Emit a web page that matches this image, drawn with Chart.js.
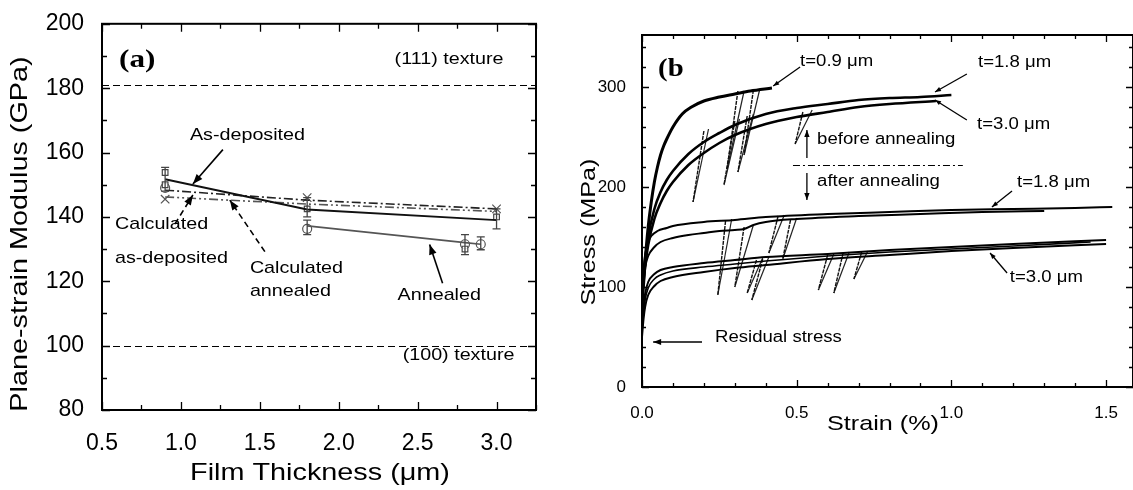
<!DOCTYPE html>
<html>
<head>
<meta charset="utf-8">
<script src="https://cdn.jsdelivr.net/npm/chart.js@4/dist/chart.umd.min.js"></script>
<style>
  html, body { margin: 0; padding: 0; background: #fff; }
  #wrap { position: relative; width: 1133px; height: 490px; overflow: hidden; }
  #chartA { position: absolute; left: 0; top: 0; }
  #chartB { position: absolute; left: 560px; top: 0; }
</style>
</head>
<body>
<div id="wrap">
  <canvas id="chartA" width="560" height="490"></canvas>
  <canvas id="chartB" width="573" height="490"></canvas>
</div>
<script>
// ---------- panel (a): modulus vs film thickness ----------
const thickness = [0.9, 1.8, 3.0];
const asDeposited = [151.7, 142.3, 139.0];
const calcAsDeposited = [148.3, 145.2, 142.5];
const calcAnnealed = [146.2, 144.0, 141.7];
const annealedThickness = [1.8, 2.8, 2.9];
const annealed = [137.2, 132.0, 131.5];

const squareX = [0.9, 0.9, 1.8, 3.0, 2.8];
const squareY = [153.8, 150.0, 142.5, 140.0, 130.0];
const circleX = [0.9, 1.8, 2.8, 2.9];
const circleY = [149.0, 136.3, 131.5, 131.5];
const crossX = [0.9, 1.8, 3.0];
const crossY = [145.5, 146.0, 142.5];

const errX = [0.9, 1.8, 1.8, 3.0, 2.8, 2.9];
const errLo = [148.0, 140.0, 134.5, 136.3, 128.3, 129.8];
const errHi = [155.4, 146.0, 139.0, 142.5, 134.5, 133.8];

const texture111 = 181;
const texture100 = 100;

const thicknessTicks = [0.5, 1.0, 1.5, 2.0, 2.5, 3.0];
const thicknessMinor = [0.75, 1.25, 1.75, 2.25, 2.75, 3.25];
const modulusTicks = [80, 100, 120, 140, 160, 180, 200];
const modulusMinor = [90, 110, 130, 150, 170, 190];

// ---------- panel (b): stress-strain curves ----------
// before annealing
const t09Strain = [0, 0.01, 0.02, 0.03, 0.04, 0.05, 0.06, 0.07, 0.08, 0.1, 0.13, 0.16, 0.2, 0.25, 0.3, 0.35, 0.42];
const t09Stress = [80, 125, 160, 185, 205, 220, 232, 241, 248, 260, 273, 280, 286, 290, 293, 296, 299];
const t18bStrain = [0, 0.01, 0.02, 0.04, 0.06, 0.08, 0.1, 0.15, 0.2, 0.25, 0.3, 0.4, 0.5, 0.6, 0.7, 0.8, 0.9, 1.0];
const t18bStress = [90, 125, 150, 178, 195, 207, 216, 233, 245, 254, 262, 273, 279, 283, 287, 289, 290, 292];
const t30bStrain = [0, 0.01, 0.02, 0.04, 0.06, 0.08, 0.1, 0.15, 0.2, 0.25, 0.3, 0.4, 0.5, 0.6, 0.7, 0.8, 0.95];
const t30bStress = [90, 120, 142, 168, 184, 196, 205, 222, 234, 244, 252, 263, 270, 275, 280, 283, 286];
// after annealing
const t18aStrain = [0, 0.005, 0.01, 0.02, 0.03, 0.05, 0.08, 0.1, 0.2, 0.3, 0.4, 0.6, 0.8, 1.0, 1.2, 1.4, 1.52];
const t18aStress = [95, 118, 132, 145, 151, 156, 159, 161, 165, 167, 170, 173, 175, 177, 178, 179, 180];
const t18a2Strain = [0, 0.005, 0.01, 0.02, 0.04, 0.06, 0.1, 0.15, 0.2, 0.25, 0.3, 0.33, 0.36, 0.4, 0.5, 0.7, 0.9, 1.1, 1.3];
const t18a2Stress = [95, 110, 120, 131, 140, 145, 149, 152, 154, 156, 157, 158, 162, 165, 168, 171, 173, 175, 176];
const t30aStrain = [0, 0.005, 0.01, 0.02, 0.04, 0.06, 0.1, 0.2, 0.3, 0.4, 0.6, 0.8, 1.0, 1.2, 1.5];
const t30aStress = [60, 80, 93, 105, 113, 117, 120, 124, 127, 130, 133, 137, 140, 143, 147];
const t30a2Strain = [0, 0.005, 0.01, 0.02, 0.04, 0.06, 0.1, 0.2, 0.3, 0.4, 0.6, 0.8, 1.0, 1.2, 1.5];
const t30a2Stress = [50, 68, 80, 92, 101, 106, 110, 115, 119, 122, 128, 132, 136, 139, 143];
const t30a3Strain = [0, 0.005, 0.01, 0.02, 0.04, 0.06, 0.1, 0.2, 0.3, 0.4, 0.6, 0.8, 1.0, 1.2, 1.45];
const t30a3Stress = [55, 74, 87, 99, 108, 112, 116, 120, 123, 126, 131, 135, 138, 141, 145];

// unloading segments: top point -> bottom point
const unloadTopStrain = [0.20, 0.30, 0.34, 0.31, 0.36, 0.52, 0.27, 0.33, 0.44, 0.48, 0.37, 0.39, 0.60, 0.65, 0.71];
const unloadTopStress = [256, 266, 271, 296, 297, 275, 166, 160, 171, 167, 127, 128, 132, 134, 135];
const unloadBotStrain = [0.165, 0.265, 0.31, 0.275, 0.33, 0.495, 0.245, 0.30, 0.41, 0.455, 0.34, 0.355, 0.57, 0.62, 0.685];
const unloadBotStress = [185, 202, 215, 218, 232, 243, 92, 100, 134, 128, 94, 87, 97, 94, 108];
// reloading segments: bottom point -> point where the curve is rejoined
const reloadEndStrain = [0.215, 0.315, 0.36, 0.33, 0.38, 0.55, 0.29, 0.36, 0.46, 0.50, 0.39, 0.41, 0.62, 0.67, 0.73];
const reloadEndStress = [258, 268, 273, 296, 297, 277, 168, 162, 172, 169, 129, 130, 133, 135, 136];

const strainTicks = [0, 0.5, 1.0, 1.5];
const strainMinor = [0.1, 0.2, 0.3, 0.4, 0.6, 0.7, 0.8, 0.9, 1.1, 1.2, 1.3, 1.4];
const stressTicks = [0, 100, 200, 300];
const stressMinor = [20, 40, 60, 80, 120, 140, 160, 180, 220, 240, 260, 280, 320, 340];

const SANS = '"Liberation Sans", Arial, Helvetica, sans-serif';
const SERIF = '"Liberation Serif", "Times New Roman", serif';

const pts = (xs, ys) => xs.map((v, i) => ({ x: v, y: ys[i] }));

function label(ctx, text, px, py, o) {
    ctx.save();
    ctx.translate(px, py);
    if (o.rotate) ctx.rotate(o.rotate);
    ctx.scale(o.stretch || 1, 1);
    ctx.font = (o.weight || 'normal') + ' ' + o.size + 'px ' + (o.family || SANS);
    ctx.fillStyle = o.color || '#000';
    ctx.textAlign = o.align || 'left';
    ctx.textBaseline = o.baseline || 'middle';
    ctx.fillText(text, 0, 0);
    ctx.restore();
}

function arrow(ctx, x0, y0, x1, y1, o) {
    ctx.save();
    ctx.strokeStyle = ctx.fillStyle = o.color || '#000';
    ctx.lineWidth = o.width || 1.5;
    ctx.setLineDash(o.dash || []);
    ctx.beginPath();
    ctx.moveTo(x0, y0);
    ctx.lineTo(x1, y1);
    ctx.stroke();
    ctx.setLineDash([]);
    if (o.head) {
        const a = Math.atan2(y1 - y0, x1 - x0), L = o.head, W = o.headW || L * 0.38;
        ctx.beginPath();
        ctx.moveTo(x1, y1);
        ctx.lineTo(x1 - L * Math.cos(a) + W * Math.sin(a), y1 - L * Math.sin(a) - W * Math.cos(a));
        ctx.lineTo(x1 - L * Math.cos(a) - W * Math.sin(a), y1 - L * Math.sin(a) + W * Math.cos(a));
        ctx.closePath();
        ctx.fill();
    }
    ctx.restore();
}

// box + inward ticks on all four sides
function frame(chart, xMaj, xMin, yMaj, yMin, majLen, minLen, lw) {
    const { ctx, chartArea: a, scales: { x, y } } = chart;
    ctx.save();
    ctx.strokeStyle = '#000';
    ctx.lineWidth = lw;
    ctx.strokeRect(a.left, a.top, a.right - a.left, a.bottom - a.top);
    ctx.lineWidth = 1.3;
    ctx.beginPath();
    const xt = (v, len) => {
        const p = Math.round(x.getPixelForValue(v)) + 0.5;
        ctx.moveTo(p, a.bottom); ctx.lineTo(p, a.bottom - len);
        ctx.moveTo(p, a.top); ctx.lineTo(p, a.top + len);
    };
    const yt = (v, len) => {
        const p = Math.round(y.getPixelForValue(v)) + 0.5;
        ctx.moveTo(a.left, p); ctx.lineTo(a.left + len, p);
        ctx.moveTo(a.right, p); ctx.lineTo(a.right - len, p);
    };
    xMaj.forEach(v => xt(v, majLen));
    xMin.forEach(v => xt(v, minLen));
    yMaj.forEach(v => yt(v, majLen));
    yMin.forEach(v => yt(v, minLen));
    ctx.stroke();
    ctx.restore();
}

// ---------- panel (a) annotations (data coords) ----------
const notesA = [
    { t: '(a)', x: 0.608, y: 188.6, size: 26, weight: 'bold', family: SERIF, stretch: 1.2 },
    { t: '(111) texture', x: 2.354, y: 188.9, size: 17 },
    { t: '(100) texture', x: 2.405, y: 96.9, size: 17 },
    { t: 'As-deposited', x: 1.057, y: 165.5, size: 17 },
    { t: 'Calculated', x: 0.582, y: 137.8, size: 17 },
    { t: 'as-deposited', x: 0.582, y: 127.1, size: 17 },
    { t: 'Calculated', x: 1.437, y: 124.0, size: 17 },
    { t: 'annealed', x: 1.437, y: 116.9, size: 17 },
    { t: 'Annealed', x: 2.373, y: 115.7, size: 17 }
];
const arrowsA = [
    { x0: 1.266, y0: 160.9, x1: 1.076, y1: 150.2, dash: [] },
    { x0: 0.962, y0: 137.8, x1: 1.076, y1: 146.8, dash: [6, 4] },
    { x0: 1.532, y0: 129.2, x1: 1.31, y1: 145.2, dash: [6, 4] },
    { x0: 2.658, y0: 119.4, x1: 2.576, y1: 131.4, dash: [] }
];

const panelA = {
    id: 'panelA',
    beforeDatasetsDraw(chart) {
        const { ctx, chartArea: a, scales: { y } } = chart;
        ctx.save();
        ctx.strokeStyle = '#000';
        ctx.lineWidth = 1;
        ctx.setLineDash([7, 4]);
        [texture111, texture100].forEach(v => {
            const p = Math.round(y.getPixelForValue(v)) + 0.5;
            ctx.beginPath(); ctx.moveTo(a.left, p); ctx.lineTo(a.right, p); ctx.stroke();
        });
        ctx.restore();
    },
    afterDatasetsDraw(chart) {
        const { ctx, scales: { x, y } } = chart;
        // error bars
        ctx.save();
        ctx.strokeStyle = '#444';
        ctx.lineWidth = 1.3;
        errX.forEach((v, i) => {
            const px = x.getPixelForValue(v), lo = y.getPixelForValue(errLo[i]), hi = y.getPixelForValue(errHi[i]);
            ctx.beginPath();
            ctx.moveTo(px, lo); ctx.lineTo(px, hi);
            ctx.moveTo(px - 4, lo); ctx.lineTo(px + 4, lo);
            ctx.moveTo(px - 4, hi); ctx.lineTo(px + 4, hi);
            ctx.stroke();
        });
        ctx.restore();
        frame(chart, thicknessTicks, thicknessMinor, modulusTicks, modulusMinor, 8, 5, 2);
        notesA.forEach(n => label(ctx, n.t, x.getPixelForValue(n.x), y.getPixelForValue(n.y),
            { size: n.size, weight: n.weight, family: n.family, stretch: n.stretch || 1.16 }));
        arrowsA.forEach(r => arrow(ctx, x.getPixelForValue(r.x0), y.getPixelForValue(r.y0),
            x.getPixelForValue(r.x1), y.getPixelForValue(r.y1), { dash: r.dash, width: 1.6, head: 10 }));
        // axis titles
        label(ctx, 'Plane-strain Modulus (GPa)', 27, 234, { size: 24, stretch: 1.2, rotate: -Math.PI / 2, align: 'center', baseline: 'alphabetic' });
        label(ctx, 'Film Thickness (\u03bcm)', 320, 480, { size: 24, stretch: 1.2, align: 'center', baseline: 'alphabetic' });
    }
};

new Chart(document.getElementById('chartA'), {
    type: 'line',
    data: {
        datasets: [
            { label: 'As-deposited', data: pts(thickness, asDeposited), borderColor: '#111', borderWidth: 1.8, pointRadius: 0 },
            { label: 'Calculated as-deposited', data: pts(thickness, calcAsDeposited), borderColor: '#222', borderWidth: 1.6, borderDash: [9, 3, 2, 3], pointRadius: 0 },
            { label: 'Calculated annealed', data: pts(thickness, calcAnnealed), borderColor: '#555', borderWidth: 1.6, borderDash: [9, 3, 2, 3, 2, 3], pointRadius: 0 },
            { label: 'Annealed', data: pts(annealedThickness, annealed), borderColor: '#555', borderWidth: 1.6, pointRadius: 0 },
            { label: 'squares', data: pts(squareX, squareY), showLine: false, pointStyle: 'rect', pointRadius: 4, borderColor: '#444', borderWidth: 1.2, backgroundColor: 'rgba(255,255,255,0.8)' },
            { label: 'circles', data: pts(circleX, circleY), showLine: false, pointStyle: 'circle', pointRadius: 4.5, borderColor: '#555', borderWidth: 1.2, backgroundColor: 'rgba(255,255,255,0.8)' },
            { label: 'crosses', data: pts(crossX, crossY), showLine: false, pointStyle: 'crossRot', pointRadius: 6, borderColor: '#555', borderWidth: 1.2 }
        ]
    },
    options: {
        responsive: false,
        animation: false,
        layout: { padding: { left: 0, top: 20, right: 24, bottom: 0 } },
        plugins: { legend: { display: false }, tooltip: { enabled: false } },
        scales: {
            x: {
                type: 'linear', min: 0.5, max: 3.25,
                grid: { display: false }, border: { display: false },
                afterBuildTicks: s => { s.ticks = thicknessTicks.map(v => ({ value: v })); },
                afterFit: s => { s.height = 80; },
                ticks: { color: '#000', font: { family: SANS, size: 23 }, padding: 12, maxRotation: 0, autoSkip: false, callback: v => v.toFixed(1) }
            },
            y: {
                type: 'linear', min: 80, max: 200,
                grid: { display: false }, border: { display: false },
                afterBuildTicks: s => { s.ticks = modulusTicks.map(v => ({ value: v })); },
                afterFit: s => { s.width = 102; },
                ticks: { color: '#000', font: { family: SANS, size: 23 }, padding: 10, autoSkip: false }
            }
        }
    },
    plugins: [panelA]
});

// ---------- panel (b) annotations (data coords) ----------
const notesB = [
    { t: '(b', x: 0.052, y: 317, size: 25, weight: 'bold', family: SERIF, stretch: 1.15 },
    { t: 't=0.9 \u03bcm', x: 0.511, y: 325, size: 16 },
    { t: 't=1.8 \u03bcm', x: 1.086, y: 324, size: 16 },
    { t: 't=3.0 \u03bcm', x: 1.083, y: 262, size: 16 },
    { t: 'before annealing', x: 0.566, y: 247, size: 16 },
    { t: 'after annealing', x: 0.566, y: 205, size: 16 },
    { t: 't=1.8 \u03bcm', x: 1.212, y: 204, size: 16 },
    { t: 't=3.0 \u03bcm', x: 1.189, y: 109, size: 16 },
    { t: 'Residual stress', x: 0.236, y: 49, size: 16 }
];
const arrowsB = [
    { x0: 0.511, y0: 320, x1: 0.424, y1: 301, head: 6 },
    { x0: 1.05, y0: 313, x1: 0.947, y1: 295, head: 6 },
    { x0: 1.05, y0: 267, x1: 0.947, y1: 287, head: 6 },
    { x0: 0.533, y0: 229, x1: 0.533, y1: 257, head: 7 },
    { x0: 0.533, y0: 214, x1: 0.533, y1: 187, head: 7 },
    { x0: 1.196, y0: 196, x1: 1.131, y1: 180, head: 6 },
    { x0: 1.18, y0: 114, x1: 1.125, y1: 134, head: 6 },
    { x0: 0.194, y0: 45, x1: 0.036, y1: 45, head: 8 }
];
const separator = { x0: 0.488, x1: 1.037, y: 222 };

const panelB = {
    id: 'panelB',
    afterDatasetsDraw(chart) {
        const { ctx, scales: { x, y } } = chart;
        frame(chart, strainTicks, strainMinor, stressTicks, stressMinor, 7, 4, 2);
        notesB.forEach(n => label(ctx, n.t, x.getPixelForValue(n.x), y.getPixelForValue(n.y),
            { size: n.size, weight: n.weight, family: n.family, stretch: n.stretch || 1.16 }));
        arrowsB.forEach(r => arrow(ctx, x.getPixelForValue(r.x0), y.getPixelForValue(r.y0),
            x.getPixelForValue(r.x1), y.getPixelForValue(r.y1), { width: 1.3, head: r.head }));
        const sy = Math.round(y.getPixelForValue(separator.y)) + 0.5;
        arrow(ctx, x.getPixelForValue(separator.x0), sy, x.getPixelForValue(separator.x1), sy, { width: 1, dash: [7, 3, 2, 3] });
        label(ctx, 'Stress (MPa)', 35, 232, { size: 21, stretch: 1.2, rotate: -Math.PI / 2, align: 'center', baseline: 'alphabetic' });
        label(ctx, 'Strain (%)', 323, 430, { size: 21, stretch: 1.2, align: 'center', baseline: 'alphabetic' });
    }
};

const curve = (xs, ys, w) => ({ data: pts(xs, ys), borderColor: '#000', borderWidth: w, pointRadius: 0, cubicInterpolationMode: 'monotone' });
const unloadSets = unloadTopStrain.map((v, i) => ({
    data: [{ x: v, y: unloadTopStress[i] }, { x: unloadBotStrain[i], y: unloadBotStress[i] }],
    borderColor: '#111', borderWidth: 1.4, borderDash: [4, 1], pointRadius: 0
}));
const reloadSets = unloadBotStrain.map((v, i) => ({
    data: [{ x: v, y: unloadBotStress[i] }, { x: reloadEndStrain[i], y: reloadEndStress[i] }],
    borderColor: '#222', borderWidth: 1.2, pointRadius: 0
}));

new Chart(document.getElementById('chartB'), {
    type: 'line',
    data: {
        datasets: [
            curve(t09Strain, t09Stress, 3),
            curve(t18bStrain, t18bStress, 2.6),
            curve(t30bStrain, t30bStress, 2.6),
            curve(t18aStrain, t18aStress, 2),
            curve(t18a2Strain, t18a2Stress, 2),
            curve(t30aStrain, t30aStress, 2),
            curve(t30a2Strain, t30a2Stress, 2),
            curve(t30a3Strain, t30a3Stress, 1.6)
        ].concat(unloadSets, reloadSets)
    },
    options: {
        responsive: false,
        animation: false,
        layout: { padding: { left: 0, top: 35, right: 0, bottom: 0 } },
        plugins: { legend: { display: false }, tooltip: { enabled: false } },
        scales: {
            x: {
                type: 'linear', min: 0, max: 1.587,
                grid: { display: false }, border: { display: false },
                afterBuildTicks: s => { s.ticks = strainTicks.map(v => ({ value: v })); },
                afterFit: s => { s.height = 103; },
                ticks: { color: '#000', font: { family: SANS, size: 17 }, padding: 8, maxRotation: 0, autoSkip: false, callback: v => v.toFixed(1) }
            },
            y: {
                type: 'linear', min: 0, max: 352,
                grid: { display: false }, border: { display: false },
                afterBuildTicks: s => { s.ticks = stressTicks.map(v => ({ value: v })); },
                afterFit: s => { s.width = 82; },
                ticks: { color: '#000', font: { family: SANS, size: 17 }, padding: 8, autoSkip: false }
            }
        }
    },
    plugins: [panelB]
});
</script>
</body>
</html>
